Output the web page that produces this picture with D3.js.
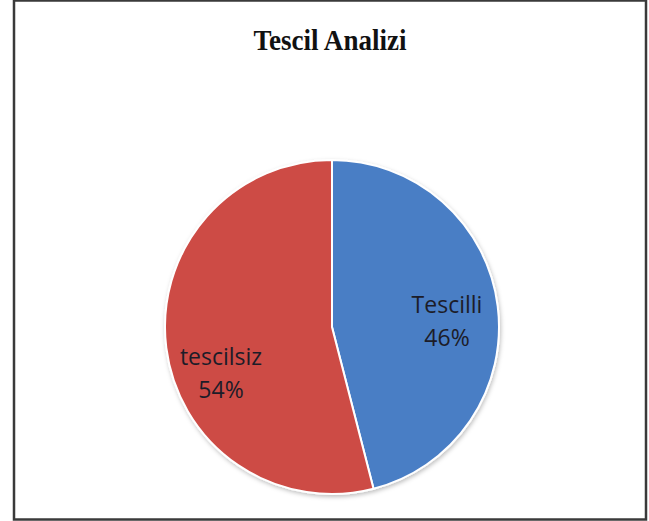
<!DOCTYPE html>
<html><head><meta charset="utf-8">
<script src="https://cdn.jsdelivr.net/npm/d3@7/dist/d3.min.js"></script>
<style>body{margin:0;background:#fff}svg{display:block}</style>
</head><body>
<svg id="c" width="649" height="521"></svg>
<script>
const categories = ["Tescilli", "tescilsiz"];
const values = [46, 54];
const labels = ["46%", "54%"];
const colors = ["#4a7ec5", "#cd4b45"];
const title = "Tescil Analizi";

const svg = d3.select("#c");
svg.append("rect").attr("x", 14).attr("y", 0.5).attr("width", 632).attr("height", 519)
  .attr("fill", "#fff").attr("stroke", "#3a3a3a").attr("stroke-width", 2.5);

svg.append("text").attr("x", 330).attr("y", 50).attr("text-anchor", "middle")
  .attr("font-family", "Liberation Serif, Times New Roman, serif").attr("font-weight", "bold")
  .attr("font-size", 30).attr("textLength", 153).attr("lengthAdjust", "spacingAndGlyphs")
  .attr("fill", "#111").text(title);

const cx = 332, cy = 327, r = 167;
const g = svg.append("g").attr("transform", `translate(${cx},${cy})`);
const pie = d3.pie().sort(null).value(d => d)(values);
const arc = d3.arc().innerRadius(0).outerRadius(r);

const defs = svg.append("defs");
const f = defs.append("filter").attr("id", "sh").attr("x", "-20%").attr("y", "-20%").attr("width", "140%").attr("height", "140%");
f.append("feDropShadow").attr("dx", 1).attr("dy", 2).attr("stdDeviation", 2).attr("flood-color", "#000").attr("flood-opacity", 0.25);

g.append("g").attr("filter", "url(#sh)").selectAll("path").data(pie).join("path")
  .attr("d", arc).attr("fill", (d, i) => colors[i]).attr("stroke", "#fff").attr("stroke-width", 2);

const labelPos = [[115, -14], [-111, 38]];
const lt = g.selectAll("text.l").data(pie).join("text").attr("class", "l")
  .attr("text-anchor", "middle").attr("font-family", "Open Sans, sans-serif")
  .attr("font-size", 23).attr("fill", "#1c1c28");
lt.append("tspan").attr("x", (d, i) => labelPos[i][0]).attr("y", (d, i) => labelPos[i][1]).text((d, i) => categories[i]);
lt.append("tspan").attr("x", (d, i) => labelPos[i][0]).attr("y", (d, i) => labelPos[i][1] + 33).text((d, i) => labels[i]);
</script>
</body></html>
